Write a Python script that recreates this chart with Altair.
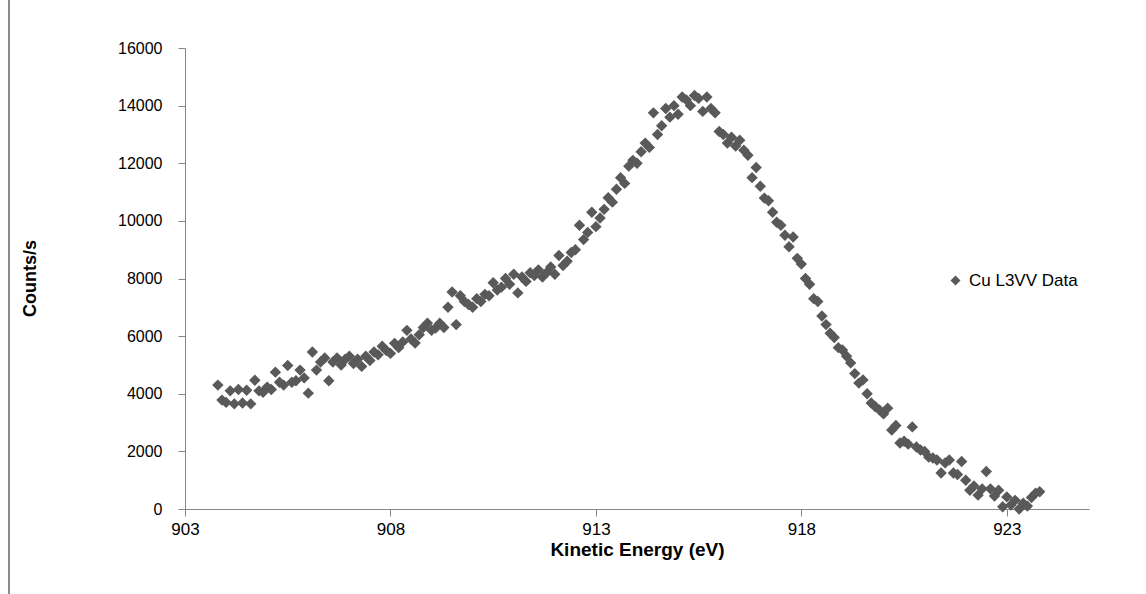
import altair as alt
import pandas as pd

energy = [
    903.8, 903.9, 904.0, 904.1, 904.2, 904.3, 904.4, 904.5, 904.6, 904.7,
    904.8, 904.9, 905.0, 905.1, 905.2, 905.3, 905.4, 905.5, 905.6, 905.7,
    905.8, 905.9, 906.0, 906.1, 906.2, 906.3, 906.4, 906.5, 906.6, 906.7,
    906.8, 906.9, 907.0, 907.1, 907.2, 907.3, 907.4, 907.5, 907.6, 907.7,
    907.8, 907.9, 908.0, 908.1, 908.2, 908.3, 908.4, 908.5, 908.6, 908.7,
    908.8, 908.9, 909.0, 909.1, 909.2, 909.3, 909.4, 909.5, 909.6, 909.7,
    909.8, 909.9, 910.0, 910.1, 910.2, 910.3, 910.4, 910.5, 910.6, 910.7,
    910.8, 910.9, 911.0, 911.1, 911.2, 911.3, 911.4, 911.5, 911.6, 911.7,
    911.8, 911.9, 912.0, 912.1, 912.2, 912.3, 912.4, 912.5, 912.6, 912.7,
    912.8, 912.9, 913.0, 913.1, 913.2, 913.3, 913.4, 913.5, 913.6, 913.7,
    913.8, 913.9, 914.0, 914.1, 914.2, 914.3, 914.4, 914.5, 914.6, 914.7,
    914.8, 914.9, 915.0, 915.1, 915.2, 915.3, 915.4, 915.5, 915.6, 915.7,
    915.8, 915.9, 916.0, 916.1, 916.2, 916.3, 916.4, 916.5, 916.6, 916.7,
    916.8, 916.9, 917.0, 917.1, 917.2, 917.3, 917.4, 917.5, 917.6, 917.7,
    917.8, 917.9, 918.0, 918.1, 918.2, 918.3, 918.4, 918.5, 918.6, 918.7,
    918.8, 918.9, 919.0, 919.1, 919.2, 919.3, 919.4, 919.5, 919.6, 919.7,
    919.8, 919.9, 920.0, 920.1, 920.2, 920.3, 920.4, 920.5, 920.6, 920.7,
    920.8, 920.9, 921.0, 921.1, 921.2, 921.3, 921.4, 921.5, 921.6, 921.7,
    921.8, 921.9, 922.0, 922.1, 922.2, 922.3, 922.4, 922.5, 922.6, 922.7,
    922.8, 922.9, 923.0, 923.1, 923.2, 923.3, 923.4, 923.5, 923.6, 923.7,
    923.8,
]

counts = [
    4300, 3780, 3700, 4100, 3650, 4150, 3680, 4120, 3650, 4470,
    4100, 4050, 4230, 4150, 4750, 4400, 4300, 4980, 4400, 4450,
    4820, 4550, 4020, 5450, 4820, 5100, 5240, 4450, 5100, 5240,
    5000, 5200, 5300, 5050, 5200, 4950, 5300, 5150, 5450, 5350,
    5650, 5500, 5400, 5750, 5600, 5800, 6200, 5900, 5760, 6050,
    6300, 6450, 6200, 6280, 6450, 6300, 7000, 7530, 6400, 7400,
    7200, 7100, 7000, 7300, 7200, 7450, 7400, 7850, 7600, 7700,
    8000, 7800, 8150, 7500, 8050, 7900, 8200, 8100, 8300, 8050,
    8200, 8400, 8150, 8800, 8450, 8600, 8900, 9000, 9850, 9350,
    9600, 10300, 9800, 10100, 10400, 10800, 10650, 11100, 11500, 11300,
    11900, 12100, 12000, 12400, 12700, 12550, 13750, 13000, 13300, 13900,
    13600, 14000, 13700, 14300, 14200, 14000, 14350, 14250, 13800, 14300,
    13900, 13750, 13100, 13000, 12700, 12900, 12600, 12800, 12450, 12280,
    11500, 11850, 11200, 10790, 10700, 10300, 9950, 9850, 9500, 9100,
    9440, 8700, 8500, 8000, 7800, 7300, 7200, 6700, 6400, 6100,
    5950, 5600, 5520, 5300, 5070, 4700, 4370, 4480, 4000, 3680,
    3550, 3440, 3300, 3500, 2740, 2900, 2290, 2350, 2250, 2850,
    2150, 2050, 2000, 1800, 1770, 1700, 1250, 1600, 1700, 1250,
    1200, 1650, 1000, 650, 800, 480, 700, 1300, 700, 450,
    650, 80, 420, 140, 300, 0, 200, 100, 400, 550,
    600,
]

series_name = "Cu L3VV Data"
x_ticks = [903, 908, 913, 918, 923]
y_ticks = [0, 2000, 4000, 6000, 8000, 10000, 12000, 14000, 16000]

df = pd.DataFrame({"energy": energy, "counts": counts, "series": series_name})

FONT = "Liberation Sans, Arial, sans-serif"
AXIS_GRAY = "#868686"
MARK = "#595959"

points = alt.Chart(df).mark_point(
    shape="diamond", filled=True, size=130, opacity=1
).encode(
    x=alt.X(
        "energy:Q",
        scale=alt.Scale(domain=[903, 925], nice=False, zero=False),
        axis=alt.Axis(
            values=x_ticks,
            format="d",
            title="Kinetic Energy (eV)",
            grid=False,
            labelFlush=False,
            domainColor=AXIS_GRAY,
            tickColor=AXIS_GRAY,
            tickSize=7,
            labelPadding=5,
            labelFont=FONT,
            labelFontSize=17,
            labelColor="#000000",
            titleFont=FONT,
            titleFontSize=19,
            titleFontWeight="bold",
            titleColor="#000000",
            titleY=40,
            titleBaseline="middle",
        ),
    ),
    y=alt.Y(
        "counts:Q",
        scale=alt.Scale(domain=[0, 16000], nice=False),
        axis=alt.Axis(
            values=y_ticks,
            format="d",
            title="Counts/s",
            grid=False,
            labelFlush=False,
            domainColor=AXIS_GRAY,
            tickColor=AXIS_GRAY,
            tickSize=7,
            labelPadding=16,
            labelFont=FONT,
            labelFontSize=16,
            labelColor="#000000",
            titleFont=FONT,
            titleFontSize=18,
            titleFontWeight="bold",
            titleColor="#000000",
            titleX=-155,
            titleY=230,
            titleAngle=270,
            titleAlign="center",
            titleBaseline="middle",
        ),
    ),
    color=alt.Color(
        "series:N",
        scale=alt.Scale(domain=[series_name], range=[MARK]),
        legend=alt.Legend(
            title=None,
            orient="none",
            legendX=762,
            legendY=224,
            symbolType="diamond",
            symbolSize=100,
            symbolStrokeWidth=0,
            labelFont=FONT,
            labelFontSize=17,
            labelColor="#000000",
            labelOffset=5,
        ),
    ),
)

border = alt.Chart(df).mark_rule(color="#8c8c8c", strokeWidth=1.5).encode(
    x=alt.value(-176),
    y=alt.value(-48),
    y2=alt.value(546),
)

chart = alt.layer(points, border).properties(
    width=904,
    height=461,
    autosize=alt.AutoSizeParams(type="none"),
    padding={"left": 185, "top": 48, "right": 57, "bottom": 85},
    background="#ffffff",
).configure_view(stroke=None)

chart.save("out.html", embed_options={"renderer": "svg", "actions": False})
